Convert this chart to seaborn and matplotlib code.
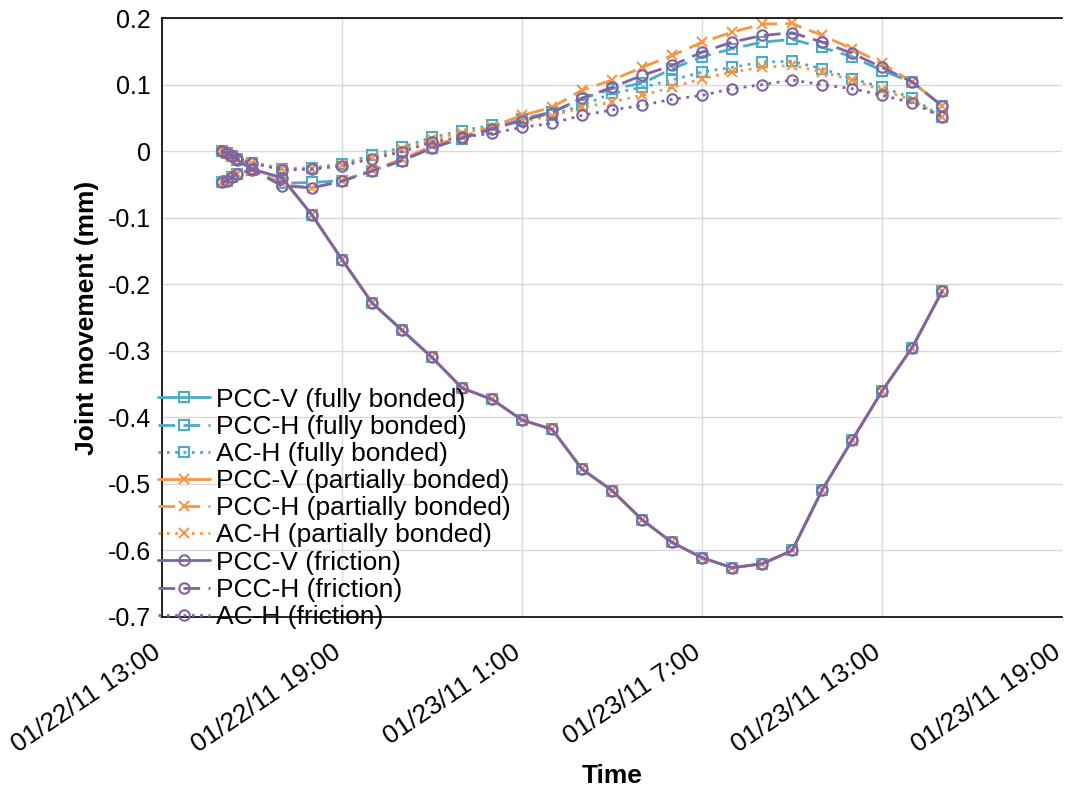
import pandas as pd
import numpy as np
import matplotlib
matplotlib.use('Agg')
import matplotlib.pyplot as plt
import matplotlib.dates as mdates
from matplotlib.ticker import FuncFormatter, MultipleLocator
import seaborn as sns

sns.set_style('whitegrid')
plt.rcParams['font.family'] = ['Liberation Sans', 'DejaVu Sans']
plt.rcParams['text.color'] = 'black'
plt.rcParams['xtick.color'] = 'black'
plt.rcParams['ytick.color'] = 'black'
plt.rcParams['axes.labelcolor'] = 'black'

# time stamps (first readings every 10 min, then hourly)
first_times = ['2011-01-22 15:00', '2011-01-22 15:10', '2011-01-22 15:20', '2011-01-22 15:30']
times = pd.to_datetime(first_times).append(pd.date_range('2011-01-22 16:00', '2011-01-23 15:00', freq='h'))

# PCC-V is the same for all three interface conditions
pcc_v = [0, -0.003, -0.007, -0.013, -0.027, -0.04, -0.096, -0.163, -0.228, -0.269, -0.31, -0.356,
         -0.373, -0.404, -0.418, -0.478, -0.51, -0.554, -0.588, -0.611, -0.626, -0.62, -0.6,
         -0.509, -0.434, -0.36, -0.295, -0.21]

pcc_h_fully = [-0.047, -0.044, -0.039, -0.034, -0.028, -0.048, -0.047, -0.044, -0.029, -0.014, 0.005,
               0.019, 0.033, 0.049, 0.059, 0.079, 0.094, 0.102, 0.124, 0.142, 0.154, 0.164, 0.168,
               0.156, 0.142, 0.121, 0.104, 0.068]
pcc_h_partial = [-0.047, -0.044, -0.039, -0.034, -0.028, -0.05, -0.055, -0.045, -0.028, -0.012, 0.008,
                 0.022, 0.037, 0.054, 0.066, 0.092, 0.107, 0.126, 0.144, 0.164, 0.179, 0.191, 0.192,
                 0.174, 0.154, 0.132, 0.104, 0.068]
pcc_h_friction = [-0.047, -0.044, -0.039, -0.034, -0.028, -0.052, -0.055, -0.045, -0.03, -0.014, 0.005,
                  0.02, 0.034, 0.046, 0.058, 0.08, 0.096, 0.114, 0.129, 0.149, 0.164, 0.174, 0.178,
                  0.164, 0.147, 0.126, 0.104, 0.068]

ac_h_fully = [0, -0.003, -0.007, -0.012, -0.017, -0.026, -0.025, -0.019, -0.006, 0.006, 0.021, 0.031,
              0.039, 0.047, 0.055, 0.069, 0.087, 0.096, 0.107, 0.119, 0.126, 0.134, 0.135, 0.124,
              0.109, 0.096, 0.08, 0.051]
ac_h_partial = [0, -0.003, -0.007, -0.012, -0.017, -0.027, -0.026, -0.021, -0.01, 0.003, 0.018, 0.028,
                0.036, 0.045, 0.053, 0.066, 0.074, 0.084, 0.096, 0.109, 0.119, 0.126, 0.129, 0.119,
                0.107, 0.092, 0.077, 0.051]
ac_h_friction = [0, -0.003, -0.007, -0.012, -0.018, -0.028, -0.027, -0.022, -0.011, -0.001, 0.014, 0.021,
                 0.027, 0.036, 0.042, 0.054, 0.062, 0.069, 0.078, 0.084, 0.094, 0.1, 0.107, 0.1,
                 0.094, 0.084, 0.073, 0.051]

series = [
    ('PCC-V (fully bonded)', pcc_v, '#4BACC6', '-', 's'),
    ('PCC-H (fully bonded)', pcc_h_fully, '#4BACC6', (0, (6, 3)), 's'),
    ('AC-H (fully bonded)', ac_h_fully, '#4BACC6', (0, (1, 2)), 's'),
    ('PCC-V (partially bonded)', pcc_v, '#F79646', '-', 'x'),
    ('PCC-H (partially bonded)', pcc_h_partial, '#F79646', (0, (6, 3)), 'x'),
    ('AC-H (partially bonded)', ac_h_partial, '#F79646', (0, (1, 2)), 'x'),
    ('PCC-V (friction)', pcc_v, '#8064A2', '-', 'o'),
    ('PCC-H (friction)', pcc_h_friction, '#8064A2', (0, (6, 3)), 'o'),
    ('AC-H (friction)', ac_h_friction, '#8064A2', (0, (1, 2)), 'o'),
]

fig = plt.figure(figsize=(10.73, 7.89), dpi=100)
ax = fig.add_axes([0.151, 0.218, 0.839, 0.759])

for name, vals, col, ls, mk in series:
    sns.lineplot(x=times, y=vals, color=col, linestyle=ls, marker=mk, markersize=7.5,
                 mfc='none', mec=col, mew=1.5, linewidth=2, label=name, ax=ax)

ax.set_xlim(pd.Timestamp('2011-01-22 13:00'), pd.Timestamp('2011-01-23 19:00'))
ax.xaxis.set_major_locator(mdates.HourLocator(byhour=[1, 7, 13, 19]))
ax.xaxis.set_major_formatter(FuncFormatter(
    lambda v, p: '{:%m/%d/%y} {}:{:%M}'.format(mdates.num2date(v), mdates.num2date(v).hour, mdates.num2date(v))))
ax.set_ylim(-0.7, 0.2)
ax.yaxis.set_major_locator(MultipleLocator(0.1))
ax.yaxis.set_major_formatter(FuncFormatter(lambda v, p: '{:g}'.format(round(v, 2)) if abs(v) > 1e-9 else '0'))

ax.grid(True, color='#D9D9D9', linewidth=1)
for s in ['left', 'bottom', 'top']:
    ax.spines[s].set_color('black')
    ax.spines[s].set_linewidth(1.2)
ax.spines['right'].set_visible(False)
ax.tick_params(axis='x', direction='in', length=6, color='black', labelsize=19, pad=28)
ax.tick_params(axis='y', length=0, labelsize=18, pad=8)
for lab in ax.get_xticklabels():
    lab.set_rotation(34)
    lab.set_ha('right')
    lab.set_va('baseline')
    lab.set_rotation_mode('anchor')

ax.set_xlabel('Time', fontsize=19, fontweight='bold', labelpad=5)
ax.set_ylabel('Joint movement (mm)', fontsize=19, fontweight='bold', labelpad=6)

handles, labels = ax.get_legend_handles_labels()
ax.legend(handles, labels, loc='lower left', bbox_to_anchor=(-0.005, -0.02), frameon=False,
          fontsize=19, labelspacing=0.12, handlelength=2.0, handletextpad=0.2,
          borderpad=0, borderaxespad=0)

fig.savefig('out.png', dpi=100)
